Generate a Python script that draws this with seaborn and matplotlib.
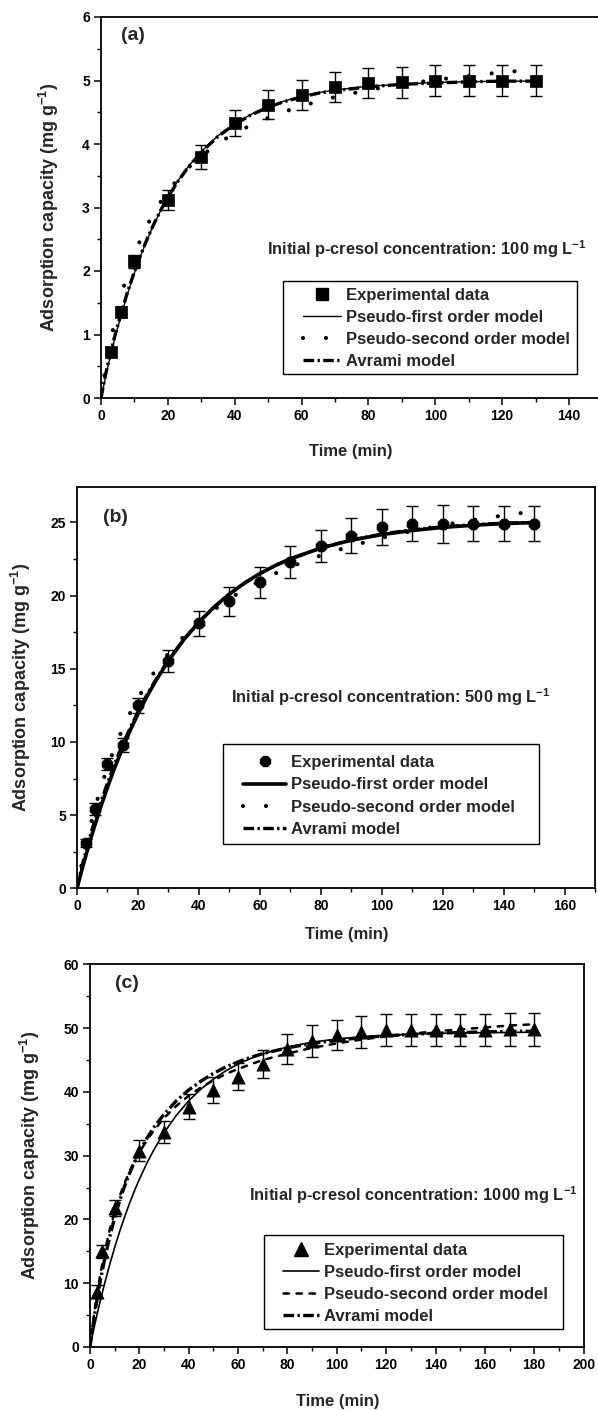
import numpy as np
import pandas as pd
import matplotlib
matplotlib.use("Agg")
import matplotlib.pyplot as plt
import seaborn as sns
from matplotlib.lines import Line2D
from matplotlib.patches import Rectangle
from matplotlib.ticker import MultipleLocator

sns.set_theme(style="white")
plt.rcParams['font.family'] = ['Liberation Sans', 'DejaVu Sans']
plt.rcParams['font.weight'] = 'bold'
plt.rcParams['axes.labelweight'] = 'bold'
plt.rcParams['mathtext.fontset'] = 'custom'
plt.rcParams['mathtext.rm'] = 'Liberation Sans:bold'
plt.rcParams['mathtext.it'] = 'Liberation Sans:bold'
plt.rcParams['mathtext.bf'] = 'Liberation Sans:bold'
plt.rcParams['mathtext.sf'] = 'Liberation Sans:bold'

# ---------------- data ----------------
legend_labels = ["Experimental data", "Pseudo-first order model",
                 "Pseudo-second order model", "Avrami model"]
panel_tags = ["(a)", "(b)", "(c)"]
conc_texts = ["Initial p-cresol concentration: 100 mg L$^{-1}$",
              "Initial p-cresol concentration: 500 mg L$^{-1}$",
              "Initial p-cresol concentration: 1000 mg L$^{-1}$"]

# (a) 100 mg/L
a_t_exp = [3, 6, 10, 20, 30, 40, 50, 60, 70, 80, 90, 100, 110, 120, 130]
a_q_exp = [0.72, 1.35, 2.15, 3.12, 3.80, 4.33, 4.62, 4.77, 4.90, 4.96, 4.97, 5.00, 5.00, 5.00, 5.00]
a_err = [0.06, 0.08, 0.10, 0.16, 0.19, 0.21, 0.23, 0.24, 0.24, 0.24, 0.25, 0.25, 0.25, 0.25, 0.25]
a_t_fit = [0, 1, 2, 3, 4, 5, 6, 8, 10, 12, 14, 16, 18, 20, 23, 26, 30, 35, 40, 45, 50, 55, 60, 65, 70, 80, 90, 100, 110, 120, 130]
a_pfo = [0, 0.24, 0.48, 0.70, 0.91, 1.11, 1.30, 1.65, 1.97, 2.26, 2.52, 2.75, 2.97, 3.16, 3.42, 3.64, 3.88, 4.13, 4.32, 4.47, 4.59, 4.68, 4.75, 4.81, 4.85, 4.91, 4.94, 4.97, 4.98, 4.99, 4.99]
a_pso = [0, 0.35, 0.66, 0.93, 1.18, 1.40, 1.61, 1.96, 2.26, 2.52, 2.74, 2.93, 3.10, 3.25, 3.45, 3.62, 3.81, 4.01, 4.17, 4.30, 4.41, 4.51, 4.60, 4.67, 4.74, 4.85, 4.94, 5.01, 5.07, 5.13, 5.17]
a_avr = [0, 0.28, 0.52, 0.74, 0.95, 1.14, 1.33, 1.68, 1.99, 2.27, 2.53, 2.76, 2.97, 3.16, 3.41, 3.63, 3.87, 4.12, 4.31, 4.46, 4.58, 4.67, 4.74, 4.80, 4.84, 4.90, 4.94, 4.96, 4.98, 4.99, 4.99]

# (b) 500 mg/L
b_t_exp = [3, 6, 10, 15, 20, 30, 40, 50, 60, 70, 80, 90, 100, 110, 120, 130, 140, 150]
b_q_exp = [3.1, 5.4, 8.5, 9.8, 12.5, 15.5, 18.1, 19.6, 20.9, 22.3, 23.4, 24.1, 24.7, 24.9, 24.9, 24.9, 24.9, 24.9]
b_err = [0.3, 0.4, 0.4, 0.5, 0.5, 0.75, 0.85, 1.0, 1.05, 1.1, 1.1, 1.2, 1.25, 1.2, 1.3, 1.2, 1.2, 1.2]
b_t_fit = [0, 1, 2, 3, 4, 5, 6, 8, 10, 12, 14, 16, 18, 20, 23, 26, 30, 35, 40, 45, 50, 55, 60, 65, 70, 80, 90, 100, 110, 120, 130, 140, 150]
b_pfo = [0, 0.79, 1.56, 2.31, 3.03, 3.73, 4.40, 5.69, 6.90, 8.04, 9.10, 10.10, 11.04, 11.91, 13.13, 14.23, 15.55, 16.98, 18.19, 19.23, 20.11, 20.87, 21.51, 22.05, 22.52, 23.25, 23.79, 24.17, 24.45, 24.66, 24.81, 24.92, 24.99]
b_pso = [0, 1.10, 2.11, 3.07, 3.95, 4.79, 5.57, 7.00, 8.27, 9.41, 10.44, 11.37, 12.22, 12.99, 14.04, 14.97, 16.05, 17.21, 18.20, 19.04, 19.78, 20.43, 21.00, 21.51, 21.96, 22.75, 23.40, 23.95, 24.41, 24.82, 25.17, 25.48, 25.76]
b_avr = [0, 0.95, 1.80, 2.60, 3.35, 4.05, 4.72, 6.00, 7.20, 8.30, 9.35, 10.30, 11.20, 12.05, 13.25, 14.30, 15.60, 17.00, 18.20, 19.20, 20.10, 20.85, 21.50, 22.05, 22.50, 23.25, 23.80, 24.20, 24.50, 24.70, 24.85, 24.95, 25.00]

# (c) 1000 mg/L
c_t_exp = [3, 5, 10, 20, 30, 40, 50, 60, 70, 80, 90, 100, 110, 120, 130, 140, 150, 160, 170, 180]
c_q_exp = [8.7, 15.0, 21.8, 30.8, 33.7, 37.7, 40.3, 42.4, 44.3, 46.7, 48.0, 48.9, 49.4, 49.7, 49.7, 49.7, 49.7, 49.7, 49.8, 49.8]
c_err = [1.0, 1.0, 1.3, 1.6, 1.7, 1.9, 2.0, 2.05, 2.2, 2.35, 2.5, 2.4, 2.55, 2.55, 2.55, 2.55, 2.55, 2.55, 2.55, 2.55]
c_t_fit = [0, 1, 2, 3, 4, 5, 6, 8, 10, 12, 14, 16, 18, 20, 23, 26, 30, 35, 40, 45, 50, 55, 60, 65, 70, 80, 90, 100, 110, 120, 130, 140, 150, 160, 170, 180]
c_pfo = [0, 1.84, 3.62, 5.32, 6.97, 8.55, 10.07, 12.95, 15.62, 18.09, 20.38, 22.51, 24.47, 26.30, 28.79, 31.00, 33.60, 36.33, 38.60, 40.46, 42.01, 43.29, 44.35, 45.22, 45.94, 47.04, 47.79, 48.29, 48.64, 48.88, 49.05, 49.16, 49.24, 49.29, 49.32, 49.35]
c_pso = [0, 3.2, 6.1, 8.7, 11.0, 13.1, 15.0, 18.4, 21.2, 23.6, 25.7, 27.5, 29.1, 30.5, 32.4, 34.0, 35.9, 37.8, 39.4, 40.7, 41.8, 42.8, 43.6, 44.3, 45.0, 46.0, 46.9, 47.6, 48.2, 48.7, 49.1, 49.5, 49.8, 50.1, 50.4, 50.6]
c_avr = [0, 2.8, 5.4, 7.8, 10.0, 12.0, 13.9, 17.3, 20.3, 22.9, 25.2, 27.2, 29.0, 30.6, 32.7, 34.5, 36.5, 38.6, 40.3, 41.7, 42.9, 43.9, 44.7, 45.4, 46.0, 46.9, 47.6, 48.1, 48.5, 48.8, 49.0, 49.2, 49.3, 49.4, 49.5, 49.5]

# ---------------- layout helpers ----------------
W, H = 598, 1410
fig = plt.figure(figsize=(W / 100, H / 100), dpi=100)


def fx(px):
    return px / W


def fy(py):
    return 1 - py / H


def make_axes(left, right, top, bottom):
    return fig.add_axes([fx(left), fy(bottom), fx(right) - fx(left), (bottom - top) / H])


panels = [
    dict(box=(101, 602.4, 17, 398), xlim=(0, 150), ylim=(0, 6), ymaj=1, ymin=0.5,
         t_exp=a_t_exp, q_exp=a_q_exp, err=a_err, t_fit=a_t_fit,
         pfo=a_pfo, pso=a_pso, avr=a_avr, marker='s', ms=8.5, pfo_lw=1.0,
         pso_ls=(0, (0.01, 5.5)), pso_lw=3.0,
         tag_xy=(121, 36), text_xy=(267, 249),
         leg_box=(283, 577, 281, 374), leg_handle=(303, 341), leg_rows=(295, 362),
         ylab_x=61, xlab_cx=351, xlab_y=444, right_spine=False),
    dict(box=(77, 595.3, 487.3, 888.3), xlim=(0, 170), ylim=(0, 27.4), ymaj=5, ymin=2.5,
         t_exp=b_t_exp, q_exp=b_q_exp, err=b_err, t_fit=b_t_fit,
         pfo=b_pfo, pso=b_pso, avr=b_avr, marker='8', ms=8.5, pfo_lw=2.6,
         pso_ls=(0, (0.01, 5.5)), pso_lw=3.0,
         tag_xy=(103, 518), text_xy=(231, 697),
         leg_box=(223, 539, 744, 844), leg_handle=(243, 286), leg_rows=(762, 830),
         ylab_x=33, xlab_cx=347, xlab_y=927, right_spine=True),
    dict(box=(90, 583.6, 964.3, 1347), xlim=(0, 200), ylim=(0, 60), ymaj=10, ymin=5,
         t_exp=c_t_exp, q_exp=c_q_exp, err=c_err, t_fit=c_t_fit,
         pfo=c_pfo, pso=c_pso, avr=c_avr, marker='^', ms=9.5, pfo_lw=1.2,
         pso_ls=(0, (2.2, 3.0)), pso_lw=1.8,
         tag_xy=(115, 983), text_xy=(249, 1195),
         leg_box=(264, 563, 1235, 1329), leg_handle=(283, 319), leg_rows=(1250, 1317),
         ylab_x=42, xlab_cx=338, xlab_y=1394, right_spine=True),
]

FS_TICK = 10
FS_XLAB = 12
FS_YLAB = 13
FS_TXT = 11.8
FS_LEG = 12
FS_TAG = 14
avr_ls = (0, (3.2, 1.0, 0.7, 1.0))

for i, p in enumerate(panels):
    left, right, top, bottom = p['box']
    ax = make_axes(left, right, top, bottom)
    ax.set_facecolor('white')

    # model curves
    fit_df = pd.DataFrame({"t": p['t_fit'], "pfo": p['pfo'], "pso": p['pso'], "avr": p['avr']})
    sns.lineplot(data=fit_df, x="t", y="pfo", ax=ax, color='black', lw=p['pfo_lw'],
                 estimator=None, zorder=3)
    sns.lineplot(data=fit_df, x="t", y="pso", ax=ax, color='black', lw=p['pso_lw'],
                 linestyle=p['pso_ls'], dash_capstyle='round', estimator=None, zorder=3)
    sns.lineplot(data=fit_df, x="t", y="avr", ax=ax, color='black', lw=2.4,
                 linestyle=avr_ls, estimator=None, zorder=3)

    # experimental points with error bars
    exp_df = pd.DataFrame({"t": p['t_exp'], "q": p['q_exp'], "e": p['err']})
    ax.errorbar(exp_df["t"], exp_df["q"], yerr=exp_df["e"], fmt='none', ecolor='black',
                elinewidth=1.0, capsize=4.5, capthick=1.0, zorder=4)
    sns.scatterplot(data=exp_df, x="t", y="q", ax=ax, marker=p['marker'], s=p['ms'] ** 2,
                    color='black', edgecolor='black', linewidth=0.5, zorder=5)

    ax.set_xlim(*p['xlim'])
    ax.set_ylim(*p['ylim'])
    ax.xaxis.set_major_locator(MultipleLocator(20))
    ax.xaxis.set_minor_locator(MultipleLocator(10))
    ax.yaxis.set_major_locator(MultipleLocator(p['ymaj']))
    ax.yaxis.set_minor_locator(MultipleLocator(p['ymin']))
    ax.tick_params(which='major', direction='out', length=5, width=1.1, colors='black',
                   labelsize=FS_TICK, bottom=True, left=True, top=False, right=False, pad=3)
    ax.tick_params(which='minor', direction='out', length=3, width=1.0, colors='black',
                   bottom=True, left=True, top=False, right=False)
    for lab in ax.get_xticklabels() + ax.get_yticklabels():
        lab.set_fontweight('bold')
    for name, sp in ax.spines.items():
        sp.set_color('black')
        sp.set_linewidth(1.3)
    ax.spines['right'].set_visible(p['right_spine'])
    ax.grid(False)

    ax.set_xlabel("Time (min)", fontsize=FS_XLAB, fontweight='bold')
    ax.set_ylabel("Adsorption capacity (mg g$^{-1}$)", fontsize=FS_YLAB, fontweight='bold')
    axw = right - left
    axh = bottom - top
    ax.xaxis.set_label_coords((p['xlab_cx'] - left) / axw, -(p['xlab_y'] - bottom) / axh)
    ax.yaxis.set_label_coords((p['ylab_x'] - left) / axw, 0.5)

    fig.text(fx(p['tag_xy'][0]), fy(p['tag_xy'][1]), panel_tags[i], fontsize=FS_TAG,
             fontweight='bold', ha='left', va='center')
    fig.text(fx(p['text_xy'][0]), fy(p['text_xy'][1]), conc_texts[i], fontsize=FS_TXT,
             fontweight='bold', ha='left', va='center')

    # legend frame
    bx0, bx1, by0, by1 = p['leg_box']
    fig.patches.append(Rectangle((fx(bx0), fy(by1)), fx(bx1) - fx(bx0), (by1 - by0) / H,
                                 transform=fig.transFigure, fill=True, facecolor='white',
                                 edgecolor='black', linewidth=1.0, zorder=6))

    handles = [
        Line2D([], [], marker=p['marker'], color='black', linestyle='none', markersize=p['ms']),
        Line2D([], [], color='black', lw=p['pfo_lw']),
        Line2D([], [], color='black', lw=p['pso_lw'], linestyle=p['pso_ls'], dash_capstyle='round'),
        Line2D([], [], color='black', lw=2.4, linestyle=avr_ls),
    ]
    h0, h1 = p['leg_handle']
    r0, r1 = p['leg_rows']
    pitch = (r1 - r0) / 3
    fs_px = FS_LEG * 100 / 72
    text_h = 0.92 * fs_px
    lspace = max(0.0, (pitch - text_h) / fs_px)
    leg = fig.legend(handles, legend_labels, loc='center left',
                     bbox_to_anchor=(fx(h0), fy((r0 + r1) / 2)),
                     bbox_transform=fig.transFigure, fontsize=FS_LEG, frameon=False,
                     borderpad=0, labelspacing=lspace, handlelength=(h1 - h0) / fs_px,
                     handletextpad=0.3, borderaxespad=0)
    leg.set_zorder(7)
    for t in leg.get_texts():
        t.set_fontweight('bold')

fig.savefig("out.png", dpi=100, facecolor='white')
